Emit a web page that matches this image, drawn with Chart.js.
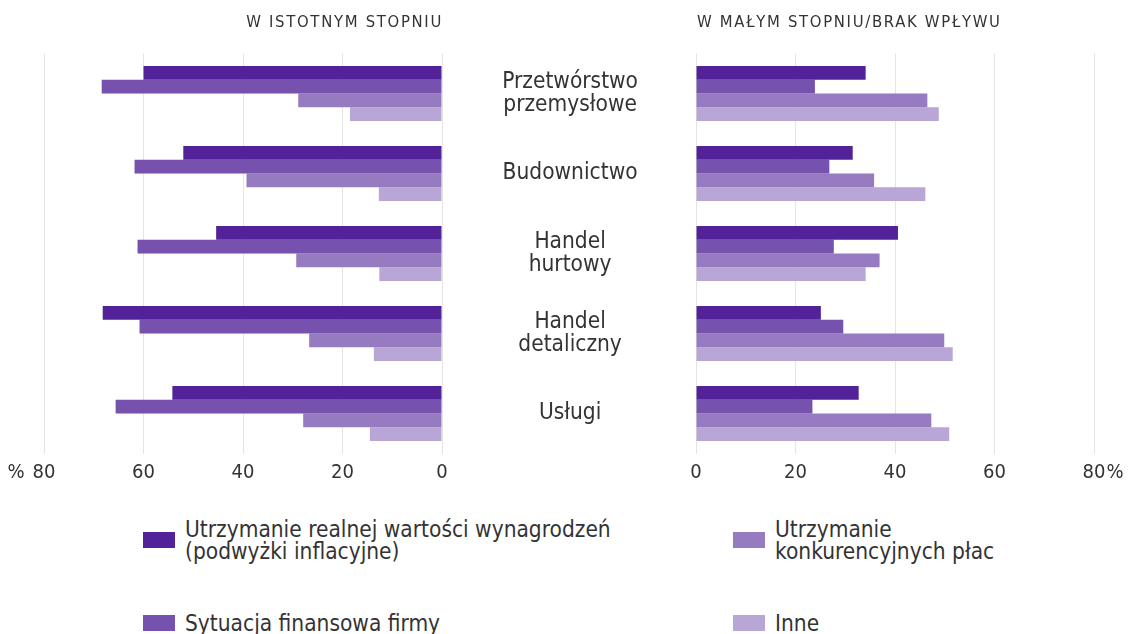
<!DOCTYPE html>
<html>
<head>
<meta charset="utf-8">
<script src="https://cdn.jsdelivr.net/npm/chart.js@4/dist/chart.umd.min.js"></script>
<style>
  body { margin: 0; background: #fff; }
  #wrap { position: relative; width: 1130px; height: 634px; overflow: hidden; font-family: 'Liberation Sans Narrow', 'DejaVu Sans Condensed', sans-serif; color: #333; }
  .box { position: absolute; top: 0; height: 490px; }
  .ttl { position: absolute; top: 12px; font-size: 16.5px; letter-spacing: 1.7px; line-height: 20px; white-space: nowrap; }
  .leg { position: absolute; display: flex; align-items: center; transform: translateY(-50%); font-size: 22.5px; line-height: 22px; }
  .leg i { display: block; width: 32px; height: 16px; margin-right: 10px; flex: none; }
</style>
</head>
<body>
<div id="wrap">
  <div class="box" style="left:0;width:470px"><canvas id="leftChart"></canvas></div>
  <div class="box" style="left:442px;width:688px"><canvas id="rightChart"></canvas></div>
  <div class="ttl" id="ttlLeft" style="right:687px"></div>
  <div class="ttl" id="ttlRight" style="left:697px"></div>
  <div id="legend"></div>
</div>
<script>
const categories = [['Przetwórstwo', 'przemysłowe'], 'Budownictwo', ['Handel', 'hurtowy'], ['Handel', 'detaliczny'], 'Usługi'];
const seriesLabels = [
  ['Utrzymanie realnej wartości wynagrodzeń', '(podwyżki inflacyjne)'],
  ['Sytuacja finansowa firmy'],
  ['Utrzymanie', 'konkurencyjnych płac'],
  ['Inne']
];
const seriesColors = ['#522398', '#7651ad', '#967bc0', '#b9a6d6'];
const panelTitles = ['W ISTOTNYM STOPNIU', 'W MAŁYM STOPNIU/BRAK WPŁYWU'];
// % odpowiedzi – wpływ w istotnym stopniu
const significant = [
  [60.0, 52.0, 45.4, 68.2, 54.2],
  [68.4, 61.8, 61.2, 60.8, 65.6],
  [28.9, 39.3, 29.3, 26.7, 27.9],
  [18.5, 12.7, 12.6, 13.7, 14.5]
];
// % odpowiedzi – wpływ w małym stopniu / brak wpływu
const minor = [
  [34.1, 31.5, 40.6, 25.1, 32.7],
  [23.9, 26.8, 27.7, 29.6, 23.4],
  [46.5, 35.8, 36.9, 49.9, 47.3],
  [48.8, 46.1, 34.1, 51.6, 50.9]
];
const xMax = 80;
const xStep = 20;

const FONT = "'Liberation Sans Narrow', 'DejaVu Sans Condensed', sans-serif";
const TEXT = '#333333';
const GRID = '#e4e4e4';

document.getElementById('ttlLeft').textContent = panelTitles[0];
document.getElementById('ttlRight').textContent = panelTitles[1];

// legend: two columns, items 0,1 left and 2,3 right
const legPos = [[143, 540], [143, 623], [733, 540], [733, 623]];
const legend = document.getElementById('legend');
seriesLabels.forEach((lines, i) => {
  const d = document.createElement('div');
  d.className = 'leg';
  d.style.left = legPos[i][0] + 'px';
  d.style.top = legPos[i][1] + 'px';
  const sq = document.createElement('i');
  sq.style.background = seriesColors[i];
  const t = document.createElement('span');
  t.innerHTML = lines.join('<br>');
  d.appendChild(sq); d.appendChild(t);
  legend.appendChild(d);
});

const makeSets = (values) => values.map((v, i) => ({
  label: seriesLabels[i].join(' '),
  data: v,
  backgroundColor: seriesColors[i],
  borderWidth: 0,
  categoryPercentage: 0.69,
  barPercentage: 1
}));

// draws "%" next to the 80 tick label
const percentPlugin = (side) => ({
  id: 'percentSign',
  afterDraw(chart) {
    const { ctx, scales: { x } } = chart;
    const px = x.getPixelForValue(xMax);
    ctx.save();
    ctx.font = '20px ' + FONT;
    ctx.fillStyle = TEXT;
    ctx.textBaseline = 'middle';
    const w = ctx.measureText(String(xMax)).width;
    const y = x.top + 7 + 12;
    if (side === 'left') { ctx.textAlign = 'right'; ctx.fillText('%', px - w / 2 - 8, y); }
    else { ctx.textAlign = 'left'; ctx.fillText('%', px + w / 2 + 1, y); }
    ctx.restore();
  }
});

const xAxis = (reverse) => ({
  min: 0, max: xMax, reverse: reverse,
  border: { display: false },
  grid: { color: GRID, lineWidth: 1, drawTicks: false },
  ticks: { stepSize: xStep, padding: 7, color: TEXT, font: { family: FONT, size: 20 }, maxRotation: 0 },
  afterFit: s => { s.height = 36.5; s.paddingLeft = 0; s.paddingRight = 0; }
});

Chart.defaults.animation = false;
Chart.defaults.font.family = FONT;

new Chart(document.getElementById('leftChart'), {
  type: 'bar',
  data: { labels: categories, datasets: makeSets(significant) },
  plugins: [percentPlugin('left')],
  options: {
    indexAxis: 'y', responsive: true, maintainAspectRatio: false,
    layout: { padding: { left: 44, right: 28, top: 53.5, bottom: 0 } },
    plugins: { legend: { display: false }, tooltip: { enabled: false } },
    scales: {
      x: xAxis(true),
      y: { display: false }
    }
  }
});

new Chart(document.getElementById('rightChart'), {
  type: 'bar',
  data: { labels: categories, datasets: makeSets(minor) },
  plugins: [percentPlugin('right')],
  options: {
    indexAxis: 'y', responsive: true, maintainAspectRatio: false,
    layout: { padding: { left: 0, right: 36, top: 53.5, bottom: 0 } },
    plugins: { legend: { display: false }, tooltip: { enabled: false } },
    scales: {
      x: xAxis(false),
      y: {
        border: { display: false },
        grid: { display: false, drawTicks: false },
        ticks: { crossAlign: 'center', padding: 58, color: TEXT, font: { family: FONT, size: 22.5, lineHeight: 1.0 } },
        afterFit: s => { s.width = 254; s.paddingTop = 0; s.paddingBottom = 0; }
      }
    }
  }
});
</script>
</body>
</html>
